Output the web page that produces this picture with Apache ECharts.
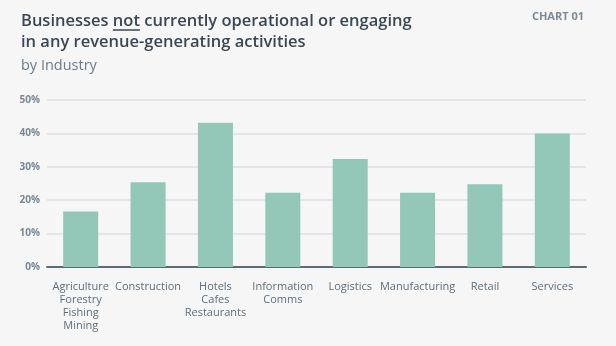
<!DOCTYPE html>
<html>
<head>
<meta charset="utf-8">
<script src="https://cdn.jsdelivr.net/npm/echarts@6/dist/echarts.min.js"></script>
<style>
html,body{margin:0;padding:0;background:#f6f6f6;}
#chart{width:616px;height:346px;}
</style>
</head>
<body>
<div id="chart"></div>
<script>
var categories = ['Agriculture\nForestry\nFishing\nMining', 'Construction', 'Hotels\nCafes\nRestaurants', 'Information\nComms', 'Logistics', 'Manufacturing', 'Retail', 'Services'];
var values = [16.6, 25.4, 43.2, 22.2, 32.3, 22.2, 24.8, 40.0];
var yTicks = [0, 10, 20, 30, 40, 50];

var FONT = '"Open Sans", "Noto Sans", sans-serif';
var titleFont = '600 16.5px ' + FONT;
var ctx = document.createElement('canvas').getContext('2d');
ctx.font = titleFont;
var preW = ctx.measureText('Businesses ').width;
var notW = ctx.measureText('not').width;

var chart = echarts.init(document.getElementById('chart'), null, {renderer: 'canvas'});
chart.setOption({
  backgroundColor: '#f6f6f6',
  animation: false,
  grid: {left: 47, right: 30, top: 100, bottom: 79, containLabel: false},
  xAxis: {
    type: 'category',
    data: categories,
    axisLine: {show: true, lineStyle: {color: '#5f6b73', width: 2}},
    axisTick: {show: false},
    axisLabel: {interval: 0, color: '#5f6e7a', fontSize: 11, lineHeight: 12.7, margin: 14, fontFamily: FONT}
  },
  yAxis: {
    type: 'value',
    min: yTicks[0], max: yTicks[yTicks.length - 1], interval: 10,
    axisLine: {show: false},
    axisTick: {show: false},
    splitLine: {lineStyle: {color: '#dde1e3', width: 1.5}},
    axisLabel: {formatter: '{value}%', color: '#7b8794', fontSize: 10, fontWeight: 'bold', margin: 7, fontFamily: FONT}
  },
  series: [{
    type: 'bar',
    data: values,
    barWidth: 35,
    itemStyle: {color: '#93c7b8'}
  }],
  graphic: [
    {type: 'text', left: 21, top: 13, style: {text: 'Businesses not currently operational or engaging', font: titleFont, fill: '#3b4853'}},
    {type: 'text', left: 21, top: 34, style: {text: 'in any revenue-generating activities', font: titleFont, fill: '#3b4853'}},
    {type: 'line', shape: {x1: 21 + preW, y1: 30, x2: 21 + preW + notW, y2: 30}, style: {stroke: '#3b4853', lineWidth: 1.5}},
    {type: 'text', left: 21, top: 58, style: {text: 'by Industry', font: '500 14.5px ' + FONT, fill: '#6b7c8a'}},
    {type: 'text', right: 32, top: 11, style: {text: 'CHART 01', font: 'bold 11px ' + FONT, fill: '#7d8a96'}}
  ]
});
</script>
</body>
</html>
